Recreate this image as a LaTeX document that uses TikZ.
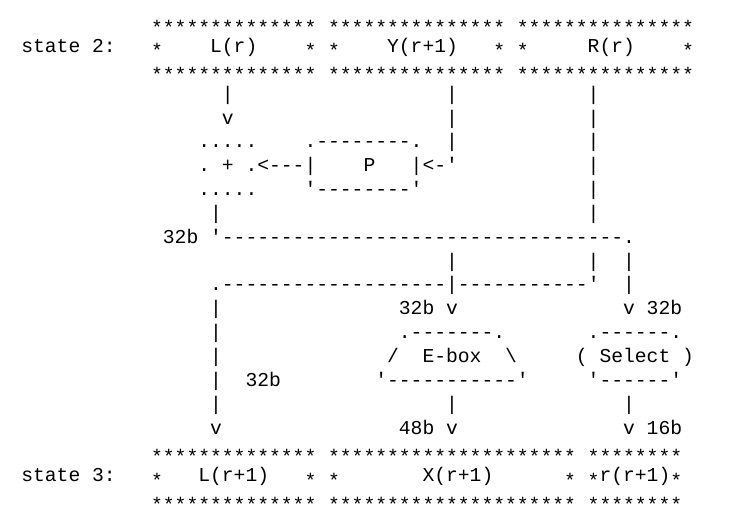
\documentclass[tikz,border=0pt]{standalone}
\usepackage{fontspec}
\setmonofont{Liberation Mono}

\def\cw{11.8pt}   % one character
\def\lh{23.85pt}  % one line

\begin{document}
\begin{tikzpicture}[x=\cw, y=-\lh,
  every node/.style={anchor=base west, inner sep=0pt, outer sep=0pt,
    font=\ttfamily\fontsize{19.67pt}{23.85pt}\selectfont\frenchspacing},
  asts/.style={yshift=-5.5pt}]
\useasboundingbox (-21.3pt,28.65pt) rectangle (707.7pt,-495.35pt);
% State 2 register
\node (st2) at (0,1) {state 2:};
\foreach \r in {0,2} {
  \node[asts] (sA\r) at (11,\r) {**************};
  \node[asts] (sB\r) at (26,\r) {***************};
  \node[asts] (sC\r) at (42,\r) {***************};
}
\foreach \c in {11,24,26,40,42,56} \node[asts] (e\c) at (\c,1) {*};
\node (Lr) at (16,1) {L(r)};
\node (Yr) at (31,1) {Y(r+1)};
\node (Rr) at (48,1) {R(r)};
% Verticals from state 2
\node (vL) at (17,3) {|};
\node (aL) at (17,4) {v};
\foreach \r in {3,4,5} \node (vY\r) at (36,\r) {|};
\foreach \r in {3,...,8,10} \node (vR\r) at (48,\r) {|};
% Adder and P
\node (addT) at (15,5) {.....};
\node (add) at (15,6) {. + .<---|};
\node (addB) at (15,7) {.....};
\node (pT) at (24,5) {.--------.};
\node (P) at (29,6) {P};
\node (pR) at (33,6) {|<-'};
\node (pB) at (24,7) {'--------'};
\node (vA) at (16,8) {|};
% Swap lines
\node (b1) at (12,9) {32b};
\node (h1) at (16,9) {'----------------------------------.};
\node (vY10) at (36,10) {|};
\node (vS10) at (51,10) {|};
\node (h2) at (16,11) {.-------------------|-----------'};
\node (vS11) at (51,11) {|};
% E-box and Select
\foreach \r in {12,...,16} \node (vL\r) at (16,\r) {|};
\node (aE) at (32,12) {32b v};
\node (aS) at (51,12) {v 32b};
\node (eT) at (32,13) {.-------.};
\node (sT) at (48,13) {.------.};
\node (eL) at (31,14) {/};
\node (E) at (34,14) {E-box};
\node (eR) at (41,14) {\textbackslash};
\node (S) at (47,14) {( Select )};
\node (b2) at (19,15) {32b};
\node (eB) at (30,15) {'-----------'};
\node (sB) at (48,15) {'------'};
\node (vE) at (36,16) {|};
\node (vS) at (51,16) {|};
\node (aL2) at (16,17) {v};
\node (aX) at (32,17) {48b v};
\node (ar) at (51,17) {v 16b};
% State 3 register
\node (st3) at (0,19) {state 3:};
\foreach \r in {18,20} {
  \node[asts] (tA\r) at (11,\r) {**************};
  \node[asts] (tB\r) at (26,\r) {*********************};
  \node[asts] (tC\r) at (48,\r) {********};
}
\foreach \c in {11,24,26,46,48,55} \node[asts] (f\c) at (\c,19) {*};
\node (L1) at (15,19) {L(r+1)};
\node (X1) at (34,19) {X(r+1)};
\node (r1) at (49,19) {r(r+1)};
\end{tikzpicture}
\end{document}
